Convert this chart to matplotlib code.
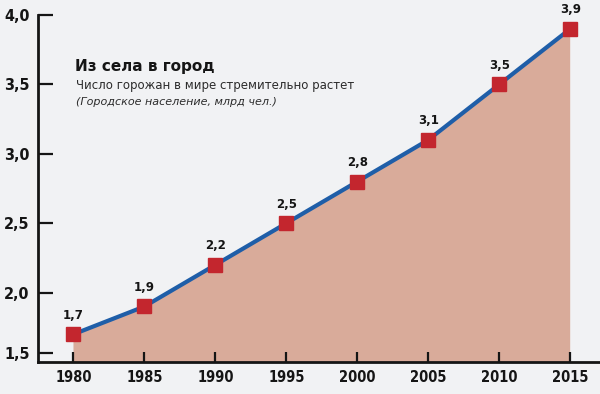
import matplotlib
matplotlib.use("Agg")
import matplotlib.pyplot as plt

years = [1980, 1985, 1990, 1995, 2000, 2005, 2010, 2015]
values = [1.7, 1.9, 2.2, 2.5, 2.8, 3.1, 3.5, 3.9]
value_labels = ["1,7", "1,9", "2,2", "2,5", "2,8", "3,1", "3,5", "3,9"]
ytick_vals = [1.5, 2.0, 2.5, 3.0, 3.5, 4.0]
ytick_labels = ["1,5", "2,0", "2,5", "3,0", "3,5", "4,0"]
title = "Из села в город"
subtitle = "Число горожан в мире стремительно растет"
note = "(Городское население, млрд чел.)"

BG = "#f1f2f4"
FILL = "#d9ab9a"
LINE = "#1f5ea8"
MARK = "#c3262e"
INK = "#151515"

fig = plt.figure(figsize=(6.0, 3.94), dpi=100, facecolor=BG)
ax = fig.add_axes([0.0633, 0.0812, 0.9367, 0.8807], facecolor=BG)

ax.fill_between(years, values, 1.0, color=FILL, lw=0, zorder=1)
ax.plot(years, values, color=LINE, lw=3, zorder=2, solid_capstyle="butt")
ax.plot(years, values, ls="none", marker="s", ms=10.5, mfc=MARK, mec=MARK,
        zorder=3, clip_on=False)
for x, y, t in zip(years, values, value_labels):
    ax.annotate(t, (x, y), xytext=(0, 9), textcoords="offset points",
                ha="center", va="bottom", fontsize=8.5, fontweight="bold",
                color=INK, annotation_clip=False, zorder=4)

ax.set_xlim(1977.5, 2017.1)
ax.set_ylim(1.5, 4.0)

ax.set_xticks(years)
ax.set_xticklabels([str(y) for y in years])
# the lowest tick is drawn slightly above the baseline, as in the reference
ypos = [v if v > 1.5 else v + 0.065 for v in ytick_vals]
ax.set_yticks(ypos)
ax.set_yticklabels(ytick_labels)

for s in ["top", "right"]:
    ax.spines[s].set_visible(False)
for s in ["left", "bottom"]:
    ax.spines[s].set_linewidth(2)
    ax.spines[s].set_color(INK)
    ax.spines[s].set_zorder(5)

ax.tick_params(axis="y", direction="in", length=11, width=1.6, color=INK,
               pad=6, labelsize=11.5, labelcolor=INK)
ax.tick_params(axis="x", direction="in", length=7, width=1.6, color=INK,
               pad=6, labelsize=10.5, labelcolor=INK)
for lab in ax.get_yticklabels() + ax.get_xticklabels():
    lab.set_fontweight("bold")
    lab.set_fontstretch("condensed")

fig.text(75 / 600, 1 - 67 / 394, title, fontsize=11, fontweight="heavy",
         color=INK, va="center", ha="left")
fig.text(76 / 600, 1 - 86 / 394, subtitle, fontsize=8.5, color="#2b2b2b",
         va="center", ha="left")
fig.text(76 / 600, 1 - 102 / 394, note, fontsize=8, style="italic",
         color="#2b2b2b", va="center", ha="left")

fig.savefig("out.png", dpi=100, facecolor=BG)
